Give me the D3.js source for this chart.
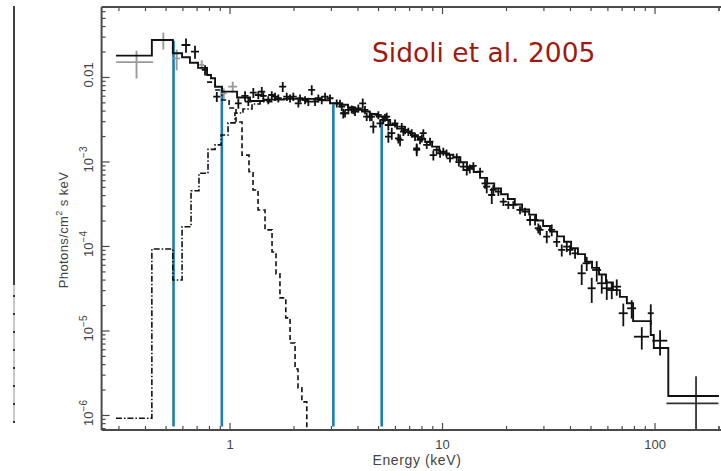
<!DOCTYPE html>
<html><head><meta charset="utf-8">
<script src="https://cdn.jsdelivr.net/npm/d3@7"></script>
<style>
html,body{margin:0;padding:0;background:#fff;}
svg{display:block;}
</style></head><body>
<svg id="c" width="721" height="471"></svg>
<script>
// ---------- data (keV, photons/cm^2/s/keV) ----------
// black data points: [energy, flux, fluxErr, energyErr]
const spectrumPoints = [
 [0.624,0.0239,0.0046,0.030],[0.688,0.0199,0.0035,0.030],[0.767,0.0121,0.0017,0.025],[0.871,0.00585,0.0008,0.033],
 [1.100,0.00488,0.00067,0.04],[1.183,0.00596,0.00081,0.045],[1.226,0.0051,0.00056,0.046],[1.294,0.00652,0.00089,0.049],
 [1.366,0.00612,0.00067,0.052],[1.418,0.0067,0.00091,0.054],[1.442,0.00596,0.00065,0.055],[1.522,0.00534,0.00058,0.058],
 [1.580,0.00612,0.00067,0.06],[1.637,0.00585,0.00064,0.062],[1.697,0.0056,0.00061,0.064],[1.780,0.00768,0.00105,0.068],
 [1.859,0.00585,0.00064,0.07],[1.926,0.0056,0.00061,0.073],[1.996,0.00585,0.00064,0.076],[2.108,0.00488,0.00053,0.08],
 [2.147,0.0056,0.00061,0.081],[2.266,0.00534,0.00058,0.086],[2.349,0.0051,0.00056,0.089],[2.437,0.00702,0.00096,0.092],
 [2.526,0.0051,0.00056,0.096],[2.618,0.0056,0.00061,0.1],[2.716,0.00534,0.00058,0.103],[2.815,0.00585,0.00064,0.107],
 [2.971,0.0056,0.00061,0.113],[3.195,0.00488,0.00053,0.121],[3.373,0.00445,0.00049,0.128],[3.496,0.00372,0.00041,0.133],
 [3.624,0.00407,0.00044,0.137],[3.759,0.00415,0.00045,0.143],[3.895,0.00388,0.00042,0.148],[4.037,0.00426,0.00047,0.153],
 [4.234,0.00488,0.00067,0.161],[4.421,0.00339,0.00037,0.168],[4.668,0.00339,0.00037,0.177],[4.750,0.00258,0.00042,0.18],
 [5.014,0.00355,0.00039,0.19],[5.293,0.0031,0.00034,0.2],[5.492,0.00339,0.00037,0.21],[5.588,0.0027,0.00037,0.21],
 [5.80,0.00216,0.00035,0.22],[6.01,0.00283,0.00031,0.23],[6.345,0.0018,0.00029,0.24],[6.463,0.00258,0.00028,0.245],
 [6.698,0.00236,0.00026,0.25],[6.941,0.00225,0.00025,0.26],[7.202,0.00216,0.00024,0.27],[7.464,0.00197,0.00022,0.28],
 [7.603,0.00137,0.00022,0.29],[7.880,0.0018,0.0002,0.3],[8.166,0.00216,0.00024,0.31],[8.472,0.00157,0.00017,0.32],
 [8.780,0.00172,0.00019,0.33],[9.10,0.00119,0.00016,0.35],[9.44,0.00137,0.00015,0.36],[9.79,0.00125,0.00014,0.37],
 [3.31,0.00488,0.0005,0.12],[3.43,0.00372,0.0005,0.12],[3.83,0.00407,0.00045,0.14],[4.34,0.00407,0.00045,0.16],
 [4.58,0.00339,0.0004,0.17],[5.11,0.00283,0.0003,0.19],[5.39,0.0033,0.00035,0.2],[5.59,0.00197,0.0003,0.2],
 [6.23,0.00188,0.00025,0.23],[6.58,0.00225,0.00025,0.24],[7.60,0.00143,0.0002,0.28],[8.03,0.00188,0.0002,0.3],
 [10.5,0.00125,0.00014,0.4],[12.0,0.00098,0.00011,0.45],[13.5,0.00082,0.0001,0.5],
 [10.14,0.00131,0.00014,0.39],[10.9,0.00109,0.00012,0.41],[11.73,0.00112,0.00012,0.45],[12.6,0.000868,0.000095,0.48],
 [13.07,0.000793,0.00011,0.5],[14.04,0.000885,0.000097,0.53],[15.1,0.000757,0.000083,0.57],[15.94,0.000552,0.000075,0.6],
 [16.23,0.000503,0.000082,0.62],[17.14,0.000401,0.000088,0.65],[17.43,0.00046,0.000063,0.66],[18.41,0.000439,0.000048,0.7],
 [19.44,0.000334,0.000036,0.74],[20.51,0.000306,0.000033,0.78],[21.65,0.000306,0.000033,0.82],[23.28,0.000267,0.000029,0.88],
 [24.58,0.000255,0.000028,0.93],[25.95,0.000203,0.000028,0.98],[27.39,0.000203,0.000028,1.04],[28.39,0.000162,0.000022,1.08],
 [28.92,0.000155,0.000021,1.1],[31.1,0.000129,0.000021,1.18],[32.83,0.000155,0.000025,1.25],[34.66,0.000112,0.000015,1.32],
 [36.59,0.0000897,0.0000147,1.39],[38.63,0.0000981,0.0000134,1.47],[40.04,0.0000897,0.0000122,1.52],[42.27,0.0000819,0.0000112,1.6],
 [45.43,0.0000475,0.000013,2.0],[47.96,0.0000624,0.0000119,2.1],[50.64,0.0000316,0.0000104,2.2],[53.46,0.000052,0.0000142,2.6],
 [56.44,0.0000362,0.0000089,2.8],[59.6,0.0000316,0.0000086,2.9],[62.9,0.0000301,0.0000066,3.1],[66.4,0.000033,0.0000072,3.2],
 [71.3,0.000016,0.0000048,3.5],[78.1,0.0000183,0.0000045,3.8],[87.1,0.00000844,0.0000025,7.1],[96.0,0.000016,0.0000044,3.1],
 [106.2,0.00000757,0.0000025,8.6],[156.8,0.000001375,0.0000015,43]
];
// grey low-energy data points: [energy, flux, fluxErr, energyErr]
const lowEnergyPoints = [
 [0.365,0.0150,0.0054,0.072],[0.488,0.0274,0.0063,0.055],[0.564,0.0166,0.0046,0.021],
 [0.740,0.0139,0.0019,0.02],[0.94,0.0064,0.0009,0.03],[1.035,0.00768,0.0011,0.05]
];
// total model (step): [bin low edge, flux]; last entry closes the final bin
const modelTotal = [
 [0.292,0.0179],[0.431,0.0274],[0.541,0.0191],[0.598,0.0171],[0.651,0.01475],[0.711,0.0128],[0.784,0.01056],
 [0.818,0.00966],[0.855,0.00767],[0.922,0.0067],[1.085,0.00571],[1.249,0.0052],[1.45,0.0054],[1.8,0.0055],
 [2.5,0.0054],[2.72,0.0053],[2.97,0.00488],[3.3,0.0047],[3.61,0.00435],[3.9,0.0041],[4.2,0.0039],[4.57,0.00365],
 [4.94,0.0034],[5.28,0.0031],[5.7,0.0027],[6.14,0.00245],[6.63,0.00225],[7.14,0.00205],[7.7,0.00185],[8.33,0.0017],
 [8.98,0.0015],[9.7,0.0013],[10.45,0.0012],[11.3,0.00112],[12.2,0.00098],[13.1,0.00086],[14.1,0.00075],[15.1,0.00064],
 [16.3,0.00055],[17.6,0.00048],[18.95,0.00041],[20.4,0.00036],[22.0,0.00031],[23.8,0.00027],[25.7,0.000235],
 [27.7,0.0002],[29.9,0.000172],[32.2,0.000148],[34.8,0.00013],[37.5,0.000112],[40.5,0.000094],[43.6,0.00008],
 [47.1,0.000065],[50.8,0.000055],[54.8,0.000046],[59.1,0.000037],[63.7,0.00003],[68.7,0.000025],[74.1,0.000021],
 [79.3,0.0000129],[96.0,0.00000885],[99.2,0.00000621],[116.1,0.00000168],[201,0.00000168]
];
// dash-dot component (absorbed power law)
const modelPowerLaw = [
 [0.292,9.14e-7],[0.431,9.2e-5],[0.541,3.96e-5],[0.598,1.69e-4],[0.659,4.51e-4],[0.718,7.24e-4],[0.792,1.39e-3],
 [0.855,1.57e-3],[0.912,2.06e-3],[0.984,2.86e-3],[1.06,3.75e-3],[1.157,4.18e-3],[1.276,4.79e-3],[1.391,0.0051],[1.6,0.0051]
];
// dashed component (soft thermal)
const modelSoft = [
 [0.784,8.7e-3],[0.855,7.0e-3],[0.922,5.34e-3],[0.995,4.30e-3],[1.073,2.93e-3],[1.145,1.19e-3],[1.235,7.57e-4],
 [1.29,4.6e-4],[1.362,2.67e-4],[1.469,1.55e-4],[1.585,8.5e-5],[1.655,4.67e-5],[1.727,2.43e-5],[1.84,1.41e-5],
 [1.927,7.1e-6],[2.034,3.5e-6],[2.1,2.09e-6],[2.19,1.43e-6],[2.31,4e-7],[2.4,4e-7]
];
// vertical blue markers
const markerEnergy = [0.545, 0.92, 3.08, 5.2];
const markerTop = [0.0269, 0.00734, 0.00475, 0.00304];
const markerBottom = 7.3e-7;
// axes
const xDomain = [0.25, 200];
const yDomain = [6.64e-7, 0.0673];
const xMajorTicks = [1, 10, 100];
const xTickLabels = ["1", "10", "100"];
const yMajorTicks = [1e-6, 1e-5, 1e-4, 1e-3, 1e-2];
const yTickLabels = [["10","−6"],["10","−5"],["10","−4"],["10","−3"],["0.01",""]];
const xTitle = "Energy (keV)";
const yTitle = ["Photons/cm", "2", " s keV"];
const annotation = "Sidoli et al. 2005";

// ---------- drawing ----------
const svg = d3.select("#c");
const L = 101.6, R = 718.5, T = 7, B = 430, W = 721;
const x = d3.scaleLog().domain(xDomain).range([L, R]);
const y = d3.scaleLog().domain(yDomain).range([B, T]);
const axisCol = "#4a4a4a";

// stray scan edge at far left
svg.append("line").attr("x1",14).attr("x2",14).attr("y1",6).attr("y2",285).attr("stroke","#111").attr("stroke-width",1.6);
svg.append("line").attr("x1",14).attr("x2",14).attr("y1",285).attr("y2",421).attr("stroke","#bbb").attr("stroke-width",1.6);
svg.selectAll("rect.dot").data(d3.range(295, 422, 18)).join("rect").attr("class","dot")
  .attr("x",13).attr("y",d=>d).attr("width",2).attr("height",2).attr("fill","#333");

svg.append("defs").append("clipPath").attr("id","clip").append("rect")
  .attr("x",L).attr("y",T).attr("width",W-L).attr("height",B-T);

const plot = svg.append("g").attr("clip-path","url(#clip)");

const step = d3.line().x(d=>x(d[0])).y(d=>y(d[1])).curve(d3.curveStepAfter);

// blue markers
plot.selectAll("line.marker").data(markerEnergy).join("line").attr("class","marker")
  .attr("x1",d=>x(d)).attr("x2",d=>x(d))
  .attr("y1",(d,i)=>y(markerTop[i])).attr("y2",y(markerBottom))
  .attr("stroke","#1a7db4").attr("stroke-width",2.6);

// components
plot.append("path").datum(modelPowerLaw).attr("d",step).attr("fill","none")
  .attr("stroke","#111").attr("stroke-width",1.6).attr("stroke-dasharray","6,2,1.5,2");
plot.append("path").datum(modelSoft).attr("d",step).attr("fill","none")
  .attr("stroke","#111").attr("stroke-width",1.6).attr("stroke-dasharray","5,3");

// crosses
function crosses(data, color, width) {
  const g = plot.append("g").attr("stroke", color).attr("stroke-width", width);
  g.selectAll("line.h").data(data).join("line").attr("class","h")
    .attr("x1",d=>x(d[0]-d[3])).attr("x2",d=>x(d[0]+d[3]))
    .attr("y1",d=>y(d[1])).attr("y2",d=>y(d[1]));
  g.selectAll("line.v").data(data).join("line").attr("class","v")
    .attr("x1",d=>x(d[0])).attr("x2",d=>x(d[0]))
    .attr("y1",d=>y(d[1]+d[2])).attr("y2",d=>y(Math.max(d[1]-d[2], yDomain[0]*0.5)));
}
crosses(lowEnergyPoints, "#9a9a9a", 1.9);
crosses(spectrumPoints.slice(0,-1), "#111", 1.8);
crosses(spectrumPoints.slice(-1), "#333", 1.8);

// total model
plot.append("path").datum(modelTotal).attr("d",step).attr("fill","none")
  .attr("stroke","#111").attr("stroke-width",1.9);

// ---------- axes ----------
const xMinor = [], yMinor = [];
for (let dec = 0.1; dec <= 100; dec *= 10) for (let k = 2; k <= 9; k++) { const v = +(k*dec).toPrecision(3); if (v >= xDomain[0] && v <= xDomain[1]) xMinor.push(v); }
xMinor.push(200);
for (let e = -7; e <= -2; e++) for (let k = 2; k <= 9; k++) { const v = k*Math.pow(10,e); if (v >= yDomain[0] && v <= yDomain[1]) yMinor.push(v); }

function styleAxis(g) {
  g.select(".domain").remove();
  g.selectAll(".tick line").attr("stroke", axisCol).attr("stroke-width", 1.2);
}
svg.append("g").attr("transform",`translate(0,${B})`)
  .call(d3.axisBottom(x).tickValues(xMajorTicks).tickSize(-7).tickPadding(10).tickFormat((d,i)=>xTickLabels[i]))
  .call(styleAxis)
  .call(g=>g.selectAll("text").attr("fill","#444").attr("font-family","Liberation Sans, Arial, sans-serif").attr("font-size",13));
svg.append("g").attr("transform",`translate(0,${B})`)
  .call(d3.axisBottom(x).tickValues(xMinor).tickSize(-4).tickFormat("")).call(styleAxis);
svg.append("g").attr("transform",`translate(0,${T})`)
  .call(d3.axisTop(x).tickValues(xMajorTicks).tickSize(-7).tickFormat("")).call(styleAxis);
svg.append("g").attr("transform",`translate(0,${T})`)
  .call(d3.axisTop(x).tickValues(xMinor).tickSize(-4).tickFormat("")).call(styleAxis);
svg.append("g").attr("transform",`translate(${L},0)`)
  .call(d3.axisLeft(y).tickValues(yMajorTicks).tickSize(-8).tickFormat("")).call(styleAxis);
svg.append("g").attr("transform",`translate(${L},0)`)
  .call(d3.axisLeft(y).tickValues(yMinor).tickSize(-4).tickFormat("")).call(styleAxis);

// frame lines
svg.append("line").attr("x1",L).attr("x2",L).attr("y1",T).attr("y2",B).attr("stroke",axisCol).attr("stroke-width",2);
svg.append("line").attr("x1",L).attr("x2",W).attr("y1",B).attr("y2",B).attr("stroke",axisCol).attr("stroke-width",2);
svg.append("line").attr("x1",L).attr("x2",W).attr("y1",T).attr("y2",T).attr("stroke",axisCol).attr("stroke-width",2);

// rotated y tick labels
const font = "Liberation Sans, Arial, sans-serif";
yMajorTicks.forEach((v,i)=>{
  const t = svg.append("text").attr("transform",`translate(93,${y(v)-2}) rotate(-90)`)
    .attr("text-anchor","middle").attr("font-family",font).attr("font-size",13).attr("fill","#444");
  t.append("tspan").text(yTickLabels[i][0]);
  if (yTickLabels[i][1]) t.append("tspan").attr("dy",-6).attr("font-size",10).text(yTickLabels[i][1]);
});

// titles
svg.append("text").attr("x",417).attr("y",465).attr("text-anchor","middle")
  .attr("font-family",font).attr("font-size",14).attr("letter-spacing",0.6).attr("fill","#444").text(xTitle);
const yt = svg.append("text").attr("transform","translate(68,230) rotate(-90)").attr("text-anchor","middle")
  .attr("font-family",font).attr("font-size",13).attr("letter-spacing",0.4).attr("fill","#444");
yt.append("tspan").text(yTitle[0]);
yt.append("tspan").attr("dy",-6).attr("font-size",9).text(yTitle[1]);
yt.append("tspan").attr("dy",6).text(yTitle[2]);

// annotation
svg.append("text").attr("x",372).attr("y",62).attr("font-family","DejaVu Sans, Verdana, sans-serif")
  .attr("font-size",26.5).attr("fill","#a0190f").text(annotation);
</script>
</body></html>
